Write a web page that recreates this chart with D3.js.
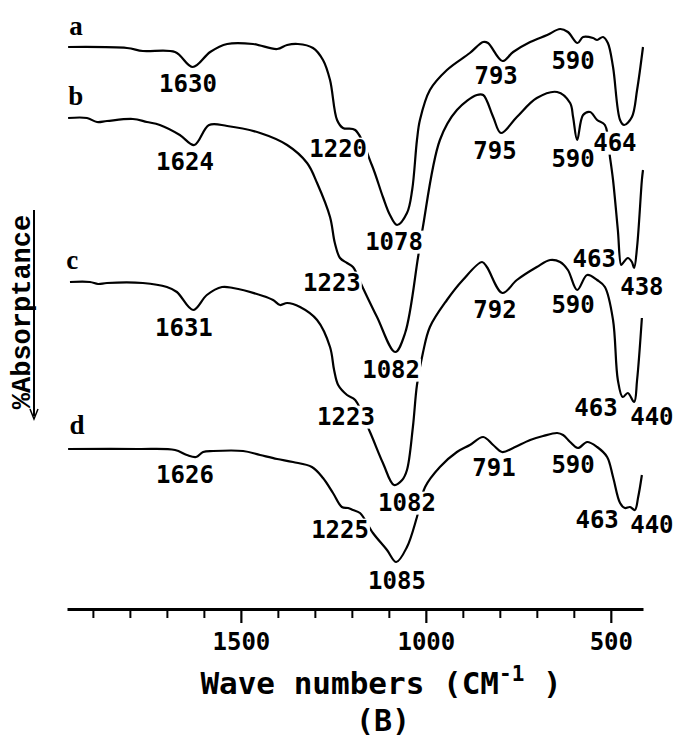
<!DOCTYPE html>
<html>
<head>
<meta charset="utf-8">
<script src="https://cdn.jsdelivr.net/npm/d3@7"></script>
<style>
  body { margin: 0; background: #fff; }
  svg { display: block; }
  .peak { font-family: "DejaVu Sans Mono", monospace; font-weight: bold; font-size: 24px; }
</style>
</head>
<body>
<div id="chart"></div>
<script>
// spectra: [wavenumber (cm-1), absorptance (arb. units, stacked)]
const specA = [[1967,7.4],[1808,7.6],[1765,8.2],[1678,8.4],[1630,11.4],[1583,8.4],[1537,6.8],[1467,6.8],
  [1402,7.8],[1375,7.0],[1346,6.8],[1305,7.6],[1278,10],[1259,14],[1240,22],[1224,23.6],[1191,24],
  [1146,31],[1116,37.4],[1097,41],[1078,43],[1051,40.6],[1037,36],[1024,26],[1016,22],[989,16],
  [943,12],[881,8.6],[845,6.4],[832,6.6],[793,10.2],[764,8.4],[718,6.4],[672,5],[637,3.8],[616,4.4],
  [590,6.6],[575,5.4],[548,5.6],[537,6],[521,5.4],[508,6.6],[494,11.4],[475,22],[464,23],[443,21.4],
  [429,16],[413,7.4]];
const specB = [[1967,21.6],[1916,21.6],[1889,22.4],[1862,22.2],[1792,21.8],[1754,22.4],[1719,23],
  [1665,25],[1626,27],[1586,23],[1537,23.2],[1448,24.6],[1375,27],[1321,30.6],[1294,34.6],[1259,41.4],
  [1246,46.6],[1232,49.6],[1213,50.6],[1197,51.4],[1170,55.6],[1132,61.4],[1083,68.4],[1056,64.6],
  [1021,49.4],[1008,43.4],[962,26],[916,20],[862,17],[845,17],[818,21.4],[797,24.6],[754,21.4],
  [700,17.6],[645,16.4],[610,18.6],[602,21.4],[591,26],[575,21],[556,20.4],[537,22],[516,23],
  [502,29.6],[494,34],[481,44],[472,51],[467,50.6],[454,49.6],[443,50.4],[437,51.6],[429,47.4],
  [416,34],[413,32]];
const specC = [[1962,54.4],[1908,54.4],[1886,54.8],[1862,54.6],[1765,54.6],[1700,55.4],[1673,56.4],
  [1629,60],[1592,57],[1551,55.4],[1521,55.6],[1440,57.2],[1413,58],[1394,59],[1375,58.6],[1340,59.4],
  [1294,62],[1259,67.4],[1248,72],[1237,75],[1213,77],[1191,78],[1151,84.4],[1116,90.6],[1086,95],
  [1064,94],[1051,92],[1035,83.4],[1024,75],[1008,68.6],[989,63.4],[943,58],[900,54],[848,50.4],
  [835,51.4],[793,56.6],[754,54],[700,51.4],[664,50],[637,50.4],[616,52],[591,56],[564,53],[537,54],
  [516,55.4],[494,62],[481,74],[468,77.4],[454,76.6],[437,78.4],[429,74],[416,61.6]];
const specD = [[1967,87.8],[1778,87.8],[1678,88],[1646,89],[1621,89.4],[1602,88.4],[1575,88.2],
  [1494,88.2],[1448,89],[1402,89.8],[1359,90.4],[1308,91.4],[1278,93.6],[1251,96.6],[1227,99.4],
  [1210,99.6],[1197,100],[1178,100.6],[1143,104.6],[1105,108],[1080,110.4],[1051,107.4],[1024,101.4],
  [1002,95.4],[962,91.4],[916,88.4],[881,87],[845,85.4],[818,87],[794,88.4],[764,87.6],[718,86],
  [683,85.2],[645,84.6],[629,85],[610,86.4],[589,87.6],[564,86.4],[537,87.4],[510,89.4],[494,93.4],
  [475,98.6],[462,99.6],[448,99.4],[435,100],[426,97.4],[416,93]];

// peak labels: [text, wavenumber, absorptance] of the label centre
const peaksA = [["1630",1643,14.6],["1220",1237,27.6],["1078",1086,46.2],["793",810,13],["590",602,10],["464",489,26.4]];
const peaksB = [["1624",1651,30.2],["1223",1254,54.4],["1082",1094,71.8],["795",813,28],["590",602,29.6],["463",545,49.6],["438",416,55.2]];
const peaksC = [["1631",1654,63.4],["1223",1216,81.2],["1082",1051,98.4],["792",813,59.8],["590",602,58.8],["463",540,79.4],["440",389,81.2]];
const peaksD = [["1626",1651,92.8],["1225",1232,103.8],["1085",1078,114],["791",816,91.4],["590",602,90.8],["463",537,101.8],["440",389,102.8]];

const curveNames = ["a", "b", "c", "d"];
const namePos = [[1946,3.2],[1946,17.2],[1956,50],[1943,83]];

const majorTicks = [1500, 1000, 500];
const minorTicks = [1900, 1800, 1700, 1600, 1400, 1300, 1200, 1100, 900, 800, 700, 600];

const width = 677, height = 738;

const svg = d3.select("#chart")
  .append("svg")
  .attr("width", width)
  .attr("height", height);

const x = d3.scaleLinear().domain([1970, 413]).range([67, 643]);
const y = d3.scaleLinear().domain([0, 120]).range([10, 610]);

const line = d3.line()
  .x(d => x(d[0]))
  .y(d => y(d[1]))
  .curve(d3.curveCatmullRom.alpha(0.5));

svg.append("g")
  .selectAll("path")
  .data([specA, specB, specC, specD])
  .join("path")
  .attr("d", line)
  .attr("fill", "none")
  .attr("stroke", "#000")
  .attr("stroke-width", 2.2)
  .attr("stroke-linejoin", "round");

// peak labels with white backing
const peaks = [...peaksA, ...peaksB, ...peaksC, ...peaksD];
const pg = svg.append("g").selectAll("g")
  .data(peaks)
  .join("g")
  .attr("transform", d => `translate(${x(d[1])},${y(d[2])})`);

pg.append("text")
  .attr("class", "peak")
  .attr("text-anchor", "middle")
  .attr("dy", "0.36em")
  .text(d => d[0]);

pg.each(function () {
  const g = d3.select(this);
  const b = g.select("text").node().getBBox();
  g.insert("rect", "text")
    .attr("x", b.x - 1)
    .attr("y", b.y + 3)
    .attr("width", b.width + 2)
    .attr("height", b.height - 5)
    .attr("fill", "#fff");
});

svg.append("g")
  .selectAll("text")
  .data(curveNames)
  .join("text")
  .attr("x", (d, i) => x(namePos[i][0]))
  .attr("y", (d, i) => y(namePos[i][1]))
  .attr("dy", "0.35em")
  .attr("text-anchor", "middle")
  .style("font-family", "'Liberation Serif', serif")
  .style("font-weight", "bold")
  .style("font-size", "27px")
  .text(d => d);

// x axis
const axisY = 609;
svg.append("g")
  .attr("transform", `translate(0,${axisY})`)
  .call(d3.axisBottom(x).tickValues(minorTicks).tickSize(9).tickFormat(""))
  .call(g => g.select(".domain").remove())
  .call(g => g.selectAll(".tick line").attr("stroke-width", 2));

const ax = svg.append("g")
  .attr("transform", `translate(0,${axisY})`)
  .call(d3.axisBottom(x).tickValues(majorTicks).tickSize(14).tickSizeOuter(0).tickPadding(10).tickFormat(d3.format("d")));
ax.select(".domain").attr("stroke-width", 3);
ax.selectAll(".tick line").attr("stroke-width", 2.2);
ax.selectAll(".tick text")
  .style("font-family", "'DejaVu Sans Mono', monospace")
  .style("font-weight", "bold")
  .style("font-size", "24px");

const title = svg.append("text")
  .attr("x", 381)
  .attr("y", 694)
  .attr("text-anchor", "middle")
  .style("font-family", "'DejaVu Sans Mono', monospace")
  .style("font-weight", "bold")
  .style("font-size", "31px");
title.append("tspan").text("Wave numbers (CM");
title.append("tspan").attr("dy", -13).style("font-size", "21px").text("-1");
title.append("tspan").attr("dy", 13).text(" )");

svg.append("text")
  .attr("x", 383)
  .attr("y", 731)
  .attr("text-anchor", "middle")
  .style("font-family", "'DejaVu Sans Mono', monospace")
  .style("font-weight", "bold")
  .style("font-size", "30px")
  .text("(B)");

// y label with arrow
svg.append("text")
  .attr("transform", "translate(30,312) rotate(-90)")
  .attr("text-anchor", "middle")
  .style("font-family", "'Liberation Mono', monospace")
  .style("font-weight", "bold")
  .style("font-size", "27px")
  .text("%Absorptance");

svg.append("line")
  .attr("x1", 34).attr("x2", 34)
  .attr("y1", 210).attr("y2", 416)
  .attr("stroke", "#000")
  .attr("stroke-width", 2);
svg.append("path")
  .attr("d", "M30,409 L34,419 L38,409")
  .attr("fill", "none")
  .attr("stroke", "#000")
  .attr("stroke-width", 1.5);
</script>
</body>
</html>
